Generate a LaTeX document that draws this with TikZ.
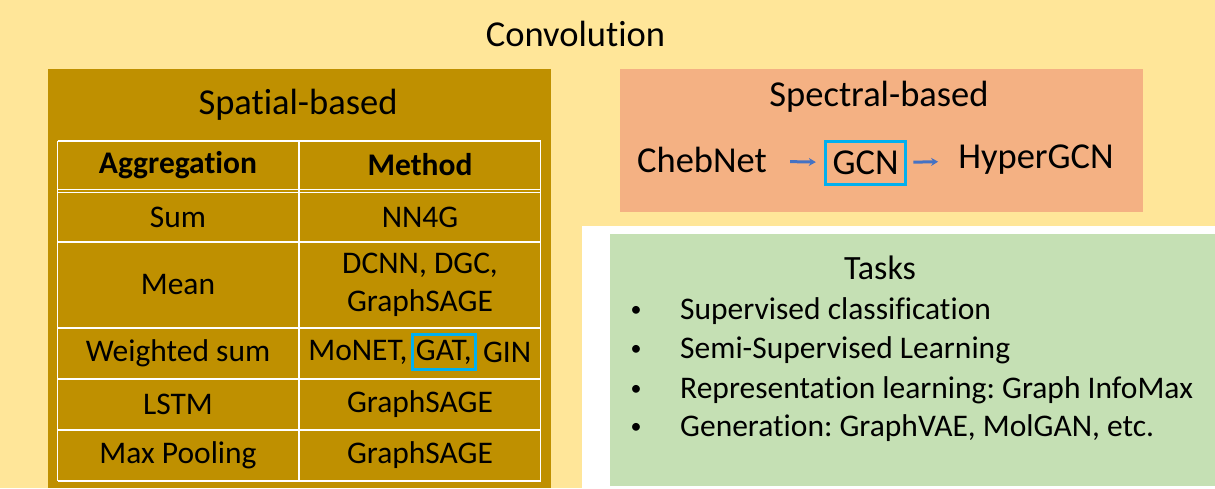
\documentclass[tikz,border=0pt]{standalone}
\usepackage{fontspec}
\setmainfont[Ligatures=NoCommon]{Carlito}
\frenchspacing
\usepackage{xcolor}
\definecolor{ConvYellow}{HTML}{FFE699}
\definecolor{SpatialGold}{HTML}{BF9000}
\definecolor{SpectralPeach}{HTML}{F4B183}
\definecolor{TaskGreen}{HTML}{C5E0B4}
\definecolor{MarkBlue}{HTML}{00B0F0}
\definecolor{FlowBlue}{HTML}{4472C4}
\usepackage{tikz}
\usetikzlibrary{math,positioning,arrows.meta}
\tikzset{%
  big text/.style={font=\fontsize{36.5}{44}\selectfont, inner sep=0pt},
  cell/.style={font=\fontsize{31.5}{38}\selectfont, inner sep=0pt, align=center},
  head cell/.style={cell, font=\fontsize{31.5}{38}\selectfont\bfseries},
  table lines/.style={draw=white, line width=1.5pt},
  mark box/.style={draw=MarkBlue, line width=3pt, inner sep=0pt},
  flow/.style={draw=FlowBlue, line width=3pt, -{Stealth[length=7pt,width=8pt]}}
}

\begin{document}
\begin{tikzpicture}[x=1pt,y=-1pt]
    \tikzmath{
      \tl=57.5;  % table left
      \tm=299;   % column divider
      \tr=540.5; % table right
      \ca=178;   % aggregation column
      \cb=420;   % method column
    }
    \useasboundingbox (0,0) rectangle (1215,488);
    \fill[ConvYellow] (0,0) rectangle (1215,488);
    \node[big text] (conv) at (575.5,34) {Convolution};

    % spatial-based
    \fill[SpatialGold] (48,69) rectangle (550.5,488);
    \node[big text] (spatial) at (298,105) {Spatial-based};
    \foreach \y in {141,189.5,192.5,242,328,379,430,481} {
      \draw[table lines] (\tl,\y) -- (\tr,\y);
    }
    \foreach \x in {\tl,\tm,\tr} {
      \draw[table lines] (\x,141) -- (\x,481);
    }
    \node[head cell] (agg-head) at (\ca,165) {Aggregation};
    \node[head cell] (meth-head) at (\cb,165) {Method};
    \foreach \y/\agg/\meth/\n in {217/Sum/NN4G/sum, 404/LSTM/GraphSAGE/lstm,
        455/Max Pooling/GraphSAGE/max} {
      \node[cell] (agg-\n) at (\ca,\y) {\agg};
      \node[cell] (meth-\n) at (\cb,\y) {\meth};
    }
    \node[cell] (agg-mean) at (\ca,285) {Mean};
    \node[cell] (meth-mean) at (\cb,285) {DCNN, DGC,\\GraphSAGE};
    \node[cell] (agg-wsum) at (\ca,353) {Weighted sum};
    \node[cell, mark box, minimum width=63pt, minimum height=35pt] (gat) at (443.8,352) {GAT,};
    \node[cell, left=3pt of gat] (monet) {MoNET,};
    \node[cell, right=6pt of gat] (gin) {GIN};

    % spectral-based
    \fill[SpectralPeach] (620,69) rectangle (1143,211.5);
    \node[big text] (spectral) at (879,97) {Spectral-based};
    \node[big text] (cheb) at (702,160) {ChebNet};
    \node[big text, mark box, minimum width=80.6pt, minimum height=43pt] (gcn) at (865.6,163) {GCN};
    \node[big text] (hyper) at (1036,160) {HyperGCN};
    \draw[flow, shorten <=23pt, shorten >=8pt] (cheb) -- (gcn);
    \draw[flow, shorten <=6pt, shorten >=20pt] (gcn) -- (hyper);

    % tasks
    \fill[white] (582,226) rectangle (1215,488);
    \fill[TaskGreen] (610,234) rectangle (1215,486);
    \node[big text, font=\fontsize{34}{41}\selectfont] (tasks) at (880,268) {Tasks};
    \foreach \y/\t/\n in {311/Supervised classification/sup,
        350/Semi-Supervised Learning/semi,
        390/Representation learning: Graph InfoMax/rep,
        428/{Generation: GraphVAE, MolGAN, etc.}/gen} {
      \node[cell, font=\fontsize{22}{26}\selectfont] (dot-\n) at (636,\y) {•};
      \node[cell, anchor=west] (task-\n) at (680,\y) {\t};
    }
  \end{tikzpicture}
\end{document}
